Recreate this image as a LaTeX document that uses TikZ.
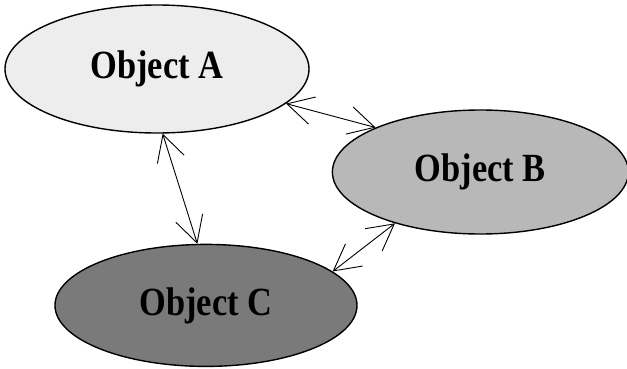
\documentclass[tikz,border=0pt]{standalone}
\usepackage{fontspec}
\setmainfont{Liberation Serif}
\newfontfamily\objfont[FakeStretch=0.86]{Liberation Serif}
\usepackage{xcolor}
\usetikzlibrary{positioning, arrows.meta, shapes.geometric}

\begin{document}
\begin{tikzpicture}[
    x=1pt, y=1pt,
    obj/.style={draw, ellipse, line width=1.4pt, inner sep=0pt, font=\objfont\fontsize{40}{48}\selectfont\bfseries},
    link/.style={{Straight Barb[length=26pt, width=28pt]}-{Straight Barb[length=26pt, width=28pt]}, line width=0.9pt}
]
\useasboundingbox (0,0) rectangle (627,368);

% Nodes
\node[obj, fill=black!7, minimum width=304pt, minimum height=128pt] (objA) at (157,299) {Object A};
\node[obj, fill=black!28, minimum width=296pt, minimum height=124pt, right=22pt of objA, yshift=-103pt] (objB) {Object B};
\node[obj, fill=black!52, minimum width=302pt, minimum height=122pt, below=110pt of objA, xshift=49pt] (objC) {Object C};

% Arrows
\draw[link] (objA.-15) -- (objB.157);
\draw[link] (objA.-85) -- (objC.98);
\draw[link] (objB.211) -- (objC.15);

\end{tikzpicture}
\end{document}
